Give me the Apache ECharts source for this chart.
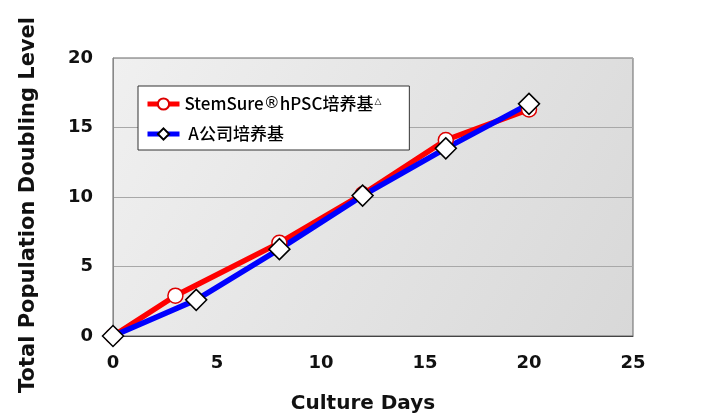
<!DOCTYPE html>
<html><head><meta charset="utf-8">
<script src="https://cdn.jsdelivr.net/npm/echarts@6/dist/echarts.min.js"></script>
<style>html,body{margin:0;padding:0;background:#fff}#c{width:714px;height:419px}</style>
</head><body><div id="c"></div>
<script>
const seriesNames = ['StemSure®hPSC培养基△', ' A公司培养基'];
const stemDays = [0, 3, 8, 12, 16, 20];
const stemValues = [0, 2.9, 6.7, 10.2, 14.1, 16.3];
const aDays = [0, 4, 8, 12, 16, 20];
const aValues = [0, 2.6, 6.25, 10.1, 13.5, 16.7];
const xTicks = [0, 5, 10, 15, 20, 25];
const yTicks = [0, 5, 10, 15, 20];

const chart = echarts.init(document.getElementById('c'));
const font = 'DejaVu Sans';
chart.setOption({
  animation: false,
  grid: {
    left: 113, right: 81, top: 58, bottom: 82,
    show: true,
    borderColor: '#666', borderWidth: 1,
    backgroundColor: new echarts.graphic.LinearGradient(0, 0, 1, 1, [
      {offset: 0, color: '#f0f0f0'}, {offset: 1, color: '#d8d8d8'}
    ])
  },
  legend: {
    orient: 'vertical',
    left: 138, top: 86,
    padding: [8, 28, 6, 7],
    itemGap: 10,
    itemWidth: 32, itemHeight: 14,
    backgroundColor: '#ffffff',
    borderColor: '#333', borderWidth: 1,
    lineStyle: {width: 5},
    textStyle: {
      fontFamily: 'Noto Sans CJK SC', fontWeight: 500, fontSize: 17, color: '#000', lineHeight: 20,
      rich: {
        tri: { fontSize: 9, fontFamily: 'DejaVu Sans', verticalAlign: 'bottom', lineHeight: 20, padding: [0, 0, 8, 1] },
        r: { fontSize: 16, fontFamily: 'DejaVu Sans', lineHeight: 20 }
      }
    },
    formatter: function (n) {
      let s = n.replace('®', '{r|®}');
      if (s.endsWith('△')) s = s.slice(0, -1) + '{tri|△}';
      return s;
    },
    data: seriesNames
  },
  xAxis: {
    type: 'value', min: 0, max: 25, interval: 5,
    name: 'Culture Days', nameLocation: 'middle', nameGap: 58,
    nameTextStyle: {fontFamily: font, fontWeight: 'bold', fontSize: 20, color: '#111', padding: [0, 20, 0, 0]},
    axisLine: {show: true, lineStyle: {color: '#444'}},
    axisTick: {show: false},
    splitLine: {show: false},
    axisLabel: {margin: 18, fontFamily: font, fontWeight: 'bold', fontSize: 18, color: '#111',
      customValues: xTicks}
  },
  yAxis: {
    type: 'value', min: 0, max: 20, interval: 5,
    name: 'Total Population Doubling Level', nameLocation: 'middle', nameGap: 74,
    nameTextStyle: {fontFamily: font, fontWeight: 'bold', fontSize: 21, color: '#111', padding: [0, 16, 0, 0]},
    axisLine: {show: true, lineStyle: {color: '#888'}},
    axisTick: {show: false},
    splitLine: {show: true, lineStyle: {color: '#a8a8a8', width: 1}},
    axisLabel: {margin: 20, fontFamily: font, fontWeight: 'bold', fontSize: 18, color: '#111',
      customValues: yTicks}
  },
  series: [
    {
      name: seriesNames[0], type: 'line',
      data: stemDays.map((d, i) => [d, stemValues[i]]),
      lineStyle: {color: '#ff0000', width: 5.5},
      itemStyle: {color: '#ffffff', borderColor: '#dd0000', borderWidth: 1.5},
      symbol: 'circle', symbolSize: 15, showAllSymbol: true
    },
    {
      name: seriesNames[1], type: 'line',
      data: aDays.map((d, i) => [d, aValues[i]]),
      lineStyle: {color: '#0000ff', width: 5.5},
      itemStyle: {color: '#ffffff', borderColor: '#000000', borderWidth: 1.5},
      symbol: 'diamond', symbolSize: 21, showAllSymbol: true
    }
  ]
});
</script></body></html>
